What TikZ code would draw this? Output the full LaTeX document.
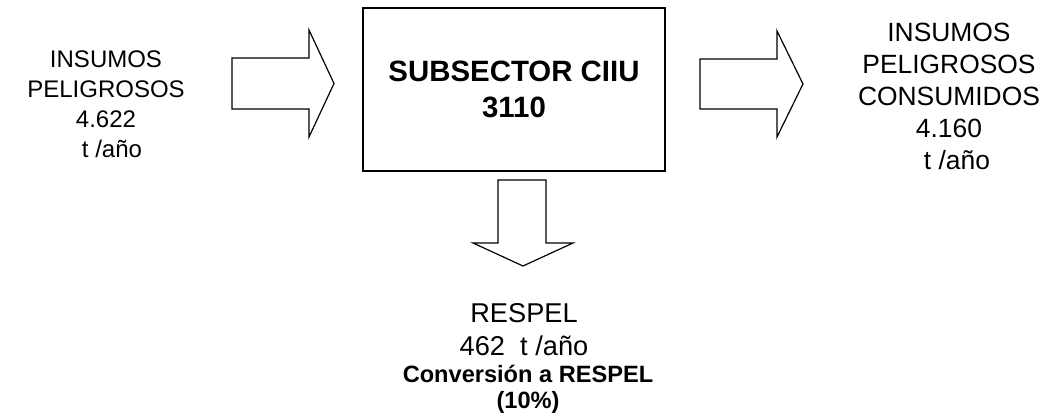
\documentclass[tikz,border=0pt]{standalone}
\usepackage{fontspec}
\setmainfont{Liberation Sans}
\usepackage{tikz}
\usetikzlibrary{positioning,calc}

\begin{document}
\begin{tikzpicture}[
    x=0.5pt, y=-0.5pt,
    sector/.style={draw, line width=1pt, minimum width=151pt, minimum height=81.5pt, align=center, font=\fontsize{14.7}{18}\selectfont\bfseries},
    label/.style={align=center, inner sep=0pt},
    blockarrow/.style={draw, line width=0.6pt, fill=white, line join=miter}
  ]
    \useasboundingbox (0,0) rectangle (1046,416);

    \node[sector] (sector) at (514,89.5) {SUBSECTOR CIIU\\3110};
    \node[label, font=\fontsize{12}{15}\selectfont] (input) at (106,104)
      {INSUMOS\\PELIGROSOS\\4.622\\\hspace*{6pt}t /año};
    \node[label, font=\fontsize{13.2}{16}\selectfont] (consumed) at (949,96)
      {INSUMOS\\PELIGROSOS\\CONSUMIDOS\\4.160\\\hspace*{8pt}t /año};
    \node[label, font=\fontsize{13.6}{16.5}\selectfont] (respel) at (524,330)
      {RESPEL\\462~~t /año};
    \node[label, font=\fontsize{11.8}{13}\selectfont\bfseries] (conversion) at (528,389)
      {Conversión a RESPEL\\(10\%)};

    % block arrows
    \draw[blockarrow] (232,58) -- (309,58) -- (309,30) -- (334,83.5) -- (309,137) -- (309,109) -- (232,109) -- cycle;
    \draw[blockarrow] (700,59) -- (777,59) -- (777,31) -- (803,84) -- (777,137) -- (777,109) -- (700,109) -- cycle;
    \draw[blockarrow] (498,180) -- (498,243) -- (473,243) -- (523,266) -- (573,243) -- (546,243) -- (546,180) -- cycle;
  \end{tikzpicture}
\end{document}
